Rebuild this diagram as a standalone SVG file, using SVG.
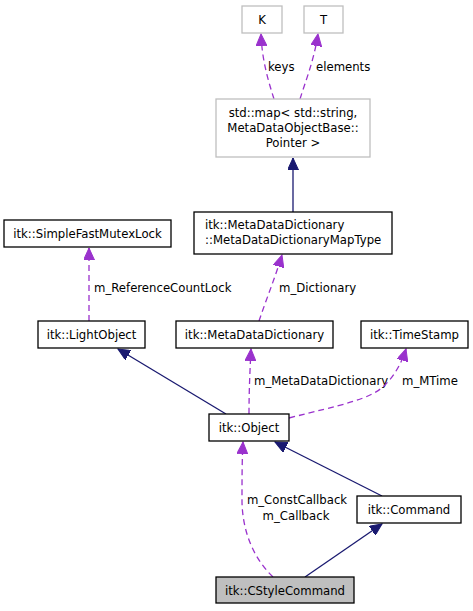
<svg xmlns="http://www.w3.org/2000/svg" width="473" height="611" viewBox="0 0 473 611">
<style>
text{font-family:"DejaVu Sans","Noto Sans",sans-serif;font-size:11.7px;fill:#000}
.n{fill:#fff;stroke:#000;stroke-width:1.3}
.g{fill:#fff;stroke:#bfbfbf;stroke-width:1.3}
.c{fill:#bfbfbf;stroke:#000;stroke-width:1.3}
.inh{fill:none;stroke:#191970;stroke-width:1.3}
.use{fill:none;stroke:#9a32cd;stroke-width:1.3;stroke-dasharray:6,4}
.m{text-anchor:middle}
</style>
<defs>
<marker id="an" markerWidth="13" markerHeight="11" refX="12" refY="5.5" orient="auto" markerUnits="userSpaceOnUse"><path d="M0,0L12,5.5L0,11Z" fill="#191970" stroke="#191970"/></marker>
<marker id="ap" markerWidth="13" markerHeight="11" refX="12" refY="5.5" orient="auto" markerUnits="userSpaceOnUse"><path d="M0,0L12,5.5L0,11Z" fill="#9a32cd" stroke="#9a32cd"/></marker>
</defs>
<g id="edges">
<path class="inh" d="M293,212L293,158" marker-end="url(#an)"/>
<path class="use" d="M274,99C268,80 262,60 261,34" marker-end="url(#ap)"/>
<path class="use" d="M300,99C306,80 314,60 318,34" marker-end="url(#ap)"/>
<text x="268" y="71">keys</text>
<text x="316" y="71">elements</text>
<path class="use" d="M89,321L89,248" marker-end="url(#ap)"/>
<text x="94" y="292">m_ReferenceCountLock</text>
<path class="use" d="M259,321C266,300 275,278 282,255" marker-end="url(#ap)"/>
<text x="279" y="292">m_Dictionary</text>
<path class="inh" d="M226,414L118,349" marker-end="url(#an)"/>
<path class="use" d="M249,414C249,390 250,370 251,349" marker-end="url(#ap)"/>
<text x="254" y="385">m_MetaDataDictionary</text>
<path class="use" d="M289,418C340,405 370,400 385,385C395,375 402,362 406,349" marker-end="url(#ap)"/>
<text x="402" y="385">m_MTime</text>
<path class="inh" d="M382,496L275,442" marker-end="url(#an)"/>
<path class="use" d="M273,577C250,555 242,525 242,500C242,480 242,460 243,442" marker-end="url(#ap)"/>
<text x="297" y="504" class="m">m_ConstCallback</text>
<text x="296" y="520" class="m">m_Callback</text>
<path class="inh" d="M305,577L382,524" marker-end="url(#an)"/>
</g>
<g id="K"><rect class="g" x="242" y="6" width="40" height="27"/><text x="262" y="24" class="m">K</text></g>
<g id="T"><rect class="g" x="304" y="6" width="39" height="27"/><text x="323.5" y="24" class="m">T</text></g>
<g id="stdmap"><rect class="g" x="216" y="99" width="154" height="58"/><text x="293" y="117" class="m">std::map&lt; std::string,</text><text x="293" y="132" class="m">MetaDataObjectBase::</text><text x="293" y="147" class="m">Pointer &gt;</text></g>
<g id="MapType"><rect class="n" x="194" y="212" width="198" height="42"/><text x="205" y="229">itk::MetaDataDictionary</text><text x="205" y="244">::MetaDataDictionaryMapType</text></g>
<g id="SimpleFastMutexLock"><rect class="n" x="4" y="220" width="167" height="27"/><text x="87.5" y="238" class="m">itk::SimpleFastMutexLock</text></g>
<g id="LightObject"><rect class="n" x="38" y="321" width="107" height="27"/><text x="91.5" y="339" class="m">itk::LightObject</text></g>
<g id="MetaDataDictionary"><rect class="n" x="176" y="321" width="157" height="27"/><text x="254.5" y="339" class="m">itk::MetaDataDictionary</text></g>
<g id="TimeStamp"><rect class="n" x="361" y="321" width="107" height="27"/><text x="414.5" y="339" class="m">itk::TimeStamp</text></g>
<g id="Object"><rect class="n" x="209" y="414" width="80" height="27"/><text x="249" y="432" class="m">itk::Object</text></g>
<g id="Command"><rect class="n" x="357" y="496" width="104" height="27"/><text x="409" y="514" class="m">itk::Command</text></g>
<g id="CStyleCommand"><rect class="c" x="216" y="577" width="138" height="26"/><text x="285" y="594.5" class="m">itk::CStyleCommand</text></g>
</svg>
